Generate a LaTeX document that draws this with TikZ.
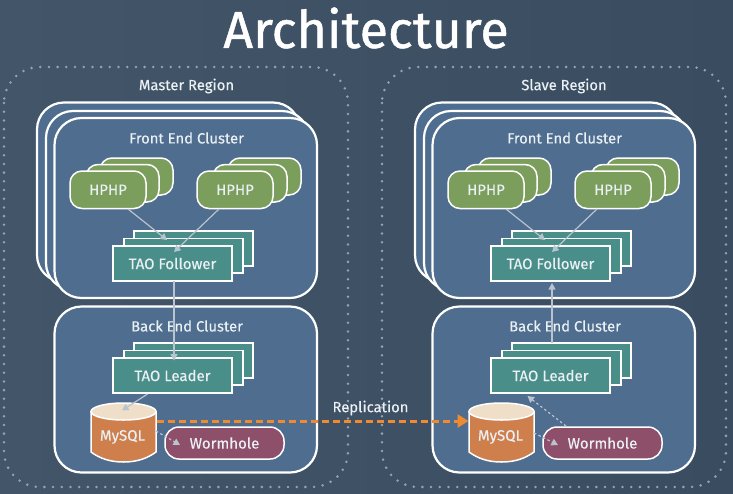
\documentclass[tikz,border=0pt]{standalone}
\usepackage{fontspec}
\setmainfont{Fira Sans}
\newfontfamily\medf{Fira Sans}[RawFeature={embolden=0.35}]
\newfontfamily\titlef{Fira Sans}[RawFeature={embolden=0.9}]
\usetikzlibrary{arrows.meta,calc}
\definecolor{bgA}{HTML}{435568}
\definecolor{bgB}{HTML}{3A4C60}
\definecolor{clusterC}{HTML}{4F6D8F}
\definecolor{greenC}{HTML}{7C9E5C}
\definecolor{tealC}{HTML}{4A8E8A}
\definecolor{orangeC}{HTML}{CF7F4C}
\definecolor{capC}{HTML}{F0DFC8}
\definecolor{wormC}{HTML}{8E4F6B}
\definecolor{dashC}{HTML}{F08A30}
\definecolor{dotC}{HTML}{93A3B1}
\definecolor{arrC}{HTML}{B9C4CE}
\definecolor{txtC}{HTML}{EAF0F4}
\tikzset{
  pix/.style={x=1pt,y=-1pt},
  boxbase/.style={inner sep=0pt,outer sep=0pt,text=txtC,font=\medf\fontsize{15}{17}\selectfont},
  regionbox/.style={draw=dotC,line width=2.8pt,line cap=round,dash pattern=on 0pt off 8.7pt,rounded corners=36pt},
  clusterbox/.style={boxbase,draw=white,fill=clusterC,line width=2.2pt,rounded corners=27pt},
  hphpbox/.style={boxbase,draw=white,fill=greenC,line width=1.5pt,rounded corners=12pt},
  taobox/.style={boxbase,draw=white,fill=tealC,line width=1.5pt},
  wormbox/.style={boxbase,draw=white,fill=wormC,line width=1.5pt,rounded corners=14pt},
  lbl/.style={inner sep=0pt,text=txtC,font=\medf\fontsize{14.8}{17}\selectfont},
  link/.style={draw=arrC,line width=1.2pt,-{Triangle[length=6.5pt,width=7pt]}},
  dotlink/.style={draw=arrC,line width=1.2pt,dash pattern=on 2.5pt off 2.5pt,-{Triangle[length=6.5pt,width=7pt]}},
  repl/.style={draw=dashC,line width=3pt,dash pattern=on 7pt off 4pt,-{Triangle[length=11pt,width=13pt]}},
}
% name, style, x1, y1, x2, y2, text
\newcommand{\bx}[7]{%
  \pgfmathsetmacro{\cxx}{(#3+#5)/2}\pgfmathsetmacro{\cyy}{(#4+#6)/2}%
  \pgfmathsetmacro{\wdd}{#5-#3}\pgfmathsetmacro{\htt}{#6-#4}%
  \node[#2,minimum width=\wdd pt,minimum height=\htt pt] (#1) at (\cxx,\cyy) {#7};}
\newcommand{\regionparts}[1]{%
  \bx{#1cb}{clusterbox}{37}{102.5}{300}{282}{}
  \bx{#1cm}{clusterbox}{46}{111}{309}{290}{}
  \bx{#1cf}{clusterbox}{54.5}{118}{317}{298}{}
  \bx{#1cl}{clusterbox}{54.5}{306.5}{317}{472.5}{}
  \node[lbl] (#1tf) at (186.5,138) {Front End Cluster};
  \node[lbl] (#1tb) at (187,326) {Back End Cluster};
  \bx{#1ac}{hphpbox}{100}{158}{173}{195}{}
  \bx{#1ab}{hphpbox}{86}{164.5}{159}{202}{}
  \bx{#1a}{hphpbox}{70}{171}{146}{208.5}{HPHP}
  \bx{#1bc}{hphpbox}{228}{158}{301}{195}{}
  \bx{#1bb}{hphpbox}{213}{164.5}{287}{202}{}
  \bx{#1b}{hphpbox}{197}{171}{273}{208.5}{HPHP}
  \bx{#1fc}{taobox}{134}{231}{253}{266}{}
  \bx{#1fb}{taobox}{124}{238.5}{243}{273}{}
  \bx{#1f}{taobox}{113}{246}{232}{281}{TAO Follower\hspace{3pt}}
  \bx{#1lc}{taobox}{134}{343}{253}{378}{}
  \bx{#1lb}{taobox}{124}{350.5}{243}{385}{}
  \bx{#1l}{taobox}{113}{358}{232}{393}{TAO Leader\hspace{3pt}}
  \draw[white,line width=1.5pt,fill=orangeC] (91,411.5) -- (91,452) .. controls (100,458.5) and (110,462) .. (123.5,462) .. controls (137,462) and (147,458.5) .. (156,452) -- (156,411.5) -- cycle;
  \draw[white,line width=1.5pt,fill=capC] (123.5,411.5) ellipse [x radius=32.5pt,y radius=8.5pt];
  \node[boxbase,minimum width=65pt,minimum height=20pt] (#1m) at (122.5,437) {MySQL};
  \bx{#1w}{wormbox}{165}{427}{284}{459}{Wormhole\hspace{2pt}}
}
\begin{document}
\begin{tikzpicture}[pix]
\useasboundingbox (0,0) rectangle (733,493);
\shade[left color=bgA,right color=bgB] (0,0) rectangle (733,493);
\node[inner sep=0pt,text=white,font=\titlef\fontsize{52}{60}\selectfont] (title) at (366,28) {Architecture};
\draw[regionbox] (4,67) rectangle (348,487);
\draw[regionbox] (382,67) rectangle (726,487);
\node[lbl] (mr) at (186.5,86) {Master Region};
\node[lbl] (sr) at (564,86) {Slave Region};
\regionparts{m}
\begin{scope}[xshift=378pt]
\regionparts{s}
\end{scope}
\draw[link] ($(ma.south)+(20,0.5)$) -- ($(mf.north)+(-5.5,-6)$);
\draw[link] ($(mb.south)+(-16,0.5)$) -- ($(mf.north)+(1.5,6)$);
\draw[link] ($(mf.south)+(1.5,0)$) -- ($(ml.north)+(1.5,2.5)$);
\draw[link] ($(ml.south)+(-25,1)$) -- ($(mm.north)+(-0.5,-16.5)$);
\draw[dotlink] ($(mm.east)+(1,-6)$) -- ($(mw.west)+(15,2)$);
\draw[link] ($(sa.south)+(20,0.5)$) -- ($(sf.north)+(-5.5,-6)$);
\draw[link] ($(sb.south)+(-16,0.5)$) -- ($(sf.north)+(1.5,6)$);
\draw[link] ($(slc.north)+(-19.5,0)$) -- ($(sf.south)+(1.5,2)$);
\draw[dotlink] ($(sw.north)+(-36.5,-1)$) -- ($(sl.south)+(-23,3)$);
\draw[dotlink] ($(sm.east)+(1,-4)$) -- ($(sw.west)+(15,2)$);
\draw[repl] ($(mm.east)+(2,-16)$) -- ($(sm.west)+(0.5,-16)$);
\node[lbl] (rep) at (370.5,408) {Replication};
\end{tikzpicture}
\end{document}
